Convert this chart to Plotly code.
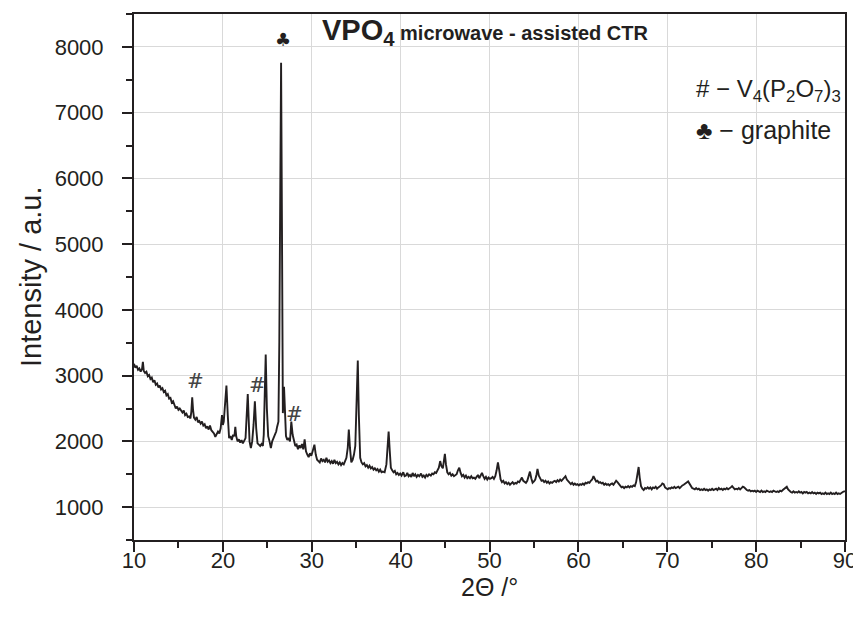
import plotly.graph_objects as go

two_theta = [
    10.0, 10.15, 10.3, 10.45, 10.6, 10.75, 10.9, 11.0, 11.1, 11.25,
    11.4, 11.55, 11.7, 11.85, 12.0, 12.15, 12.3, 12.45, 12.6, 12.75,
    12.9, 13.05, 13.2, 13.35, 13.5, 13.65, 13.8, 13.95, 14.1, 14.25,
    14.4, 14.55, 14.7, 14.85, 15.0, 15.15, 15.3, 15.45, 15.6, 15.75,
    15.9, 16.05, 16.2, 16.35, 16.45, 16.55, 16.65, 16.75, 16.9, 17.05,
    17.2, 17.35, 17.5, 17.65, 17.8, 17.95, 18.1, 18.25, 18.4, 18.55,
    18.7, 18.85, 19.0, 19.15, 19.3, 19.45, 19.6, 19.75, 19.9, 20.0,
    20.1, 20.25, 20.4, 20.55, 20.7, 20.85, 21.0, 21.15, 21.3, 21.4,
    21.5, 21.65, 21.8, 21.95, 22.1, 22.25, 22.4, 22.55, 22.7, 22.8,
    22.9, 23.0, 23.15, 23.3, 23.45, 23.6, 23.75, 23.9, 24.05, 24.2,
    24.35, 24.5, 24.6, 24.7, 24.82, 24.95, 25.1, 25.25, 25.4, 25.55,
    25.7, 25.85, 26.0, 26.1, 26.25, 26.35, 26.45, 26.55, 26.65, 26.75,
    26.88, 26.98, 27.1, 27.25, 27.4, 27.55, 27.7, 27.85, 28.0, 28.15,
    28.3, 28.45, 28.6, 28.75, 28.9, 29.05, 29.2, 29.35, 29.5, 29.65,
    29.8, 29.95, 30.1, 30.3, 30.45, 30.6, 30.75, 30.9, 31.05, 31.2,
    31.35, 31.5, 31.65, 31.8, 31.95, 32.1, 32.25, 32.4, 32.55, 32.7,
    32.85, 33.0, 33.15, 33.3, 33.45, 33.6, 33.75, 33.9, 34.05, 34.17,
    34.3, 34.45, 34.6, 34.75, 34.9, 35.05, 35.18, 35.3, 35.45, 35.6,
    35.75, 35.9, 36.05, 36.2, 36.35, 36.5, 36.65, 36.8, 36.95, 37.1,
    37.25, 37.4, 37.55, 37.7, 37.85, 38.0, 38.2, 38.4, 38.55, 38.65,
    38.78, 38.9, 39.05, 39.2, 39.35, 39.5, 39.65, 39.8, 39.95, 40.1,
    40.3, 40.45, 40.6, 40.75, 40.9, 41.05, 41.2, 41.35, 41.5, 41.65,
    41.8, 41.95, 42.1, 42.3, 42.45, 42.6, 42.75, 42.9, 43.05, 43.2,
    43.4, 43.55, 43.7, 43.85, 44.0, 44.15, 44.3, 44.45, 44.6, 44.75,
    44.9, 44.98, 45.1, 45.25, 45.4, 45.55, 45.7, 45.85, 46.0, 46.15,
    46.3, 46.45, 46.6, 46.75, 46.9, 47.05, 47.2, 47.35, 47.5, 47.65,
    47.8, 47.95, 48.1, 48.25, 48.4, 48.55, 48.7, 48.85, 49.0, 49.15,
    49.3, 49.45, 49.6, 49.75, 49.9, 50.05, 50.2, 50.35, 50.5, 50.65,
    50.8, 50.95, 51.1, 51.25, 51.4, 51.55, 51.7, 51.85, 52.0, 52.15,
    52.3, 52.45, 52.6, 52.75, 52.9, 53.05, 53.2, 53.35, 53.5, 53.65,
    53.8, 53.95, 54.1, 54.25, 54.4, 54.55, 54.7, 54.85, 55.0, 55.15,
    55.3, 55.4, 55.55, 55.7, 55.85, 56.0, 56.15, 56.3, 56.45, 56.6,
    56.75, 56.9, 57.05, 57.2, 57.35, 57.5, 57.65, 57.8, 57.95, 58.1,
    58.25, 58.4, 58.55, 58.7, 58.85, 59.0, 59.15, 59.3, 59.45, 59.6,
    59.75, 59.9, 60.05, 60.2, 60.35, 60.5, 60.65, 60.8, 60.95, 61.1,
    61.25, 61.4, 61.55, 61.7, 61.85, 62.0, 62.15, 62.3, 62.45, 62.6,
    62.75, 62.9, 63.05, 63.2, 63.35, 63.5, 63.65, 63.8, 63.95, 64.1,
    64.25, 64.4, 64.55, 64.7, 64.85, 65.0, 65.15, 65.3, 65.45, 65.6,
    65.75, 65.9, 66.05, 66.2, 66.35, 66.5, 66.65, 66.78, 66.9, 67.05,
    67.2, 67.35, 67.5, 67.65, 67.8, 67.95, 68.1, 68.25, 68.4, 68.55,
    68.7, 68.85, 69.0, 69.15, 69.3, 69.45, 69.6, 69.75, 69.9, 70.05,
    70.2, 70.35, 70.5, 70.65, 70.8, 70.95, 71.1, 71.25, 71.4, 71.55,
    71.7, 71.85, 72.0, 72.15, 72.35, 72.5, 72.65, 72.8, 72.95, 73.1,
    73.25, 73.4, 73.55, 73.7, 73.85, 74.0, 74.15, 74.3, 74.45, 74.6,
    74.75, 74.9, 75.05, 75.2, 75.35, 75.5, 75.65, 75.8, 75.95, 76.1,
    76.25, 76.4, 76.55, 76.7, 76.85, 77.0, 77.15, 77.3, 77.45, 77.6,
    77.75, 77.9, 78.05, 78.2, 78.35, 78.5, 78.65, 78.8, 78.95, 79.1,
    79.25, 79.4, 79.55, 79.7, 79.85, 80.0, 80.15, 80.3, 80.45, 80.6,
    80.75, 80.9, 81.05, 81.2, 81.35, 81.5, 81.65, 81.8, 81.95, 82.1,
    82.25, 82.4, 82.55, 82.7, 82.85, 83.0, 83.15, 83.3, 83.45, 83.6,
    83.75, 83.9, 84.05, 84.2, 84.35, 84.5, 84.65, 84.8, 84.95, 85.1,
    85.25, 85.4, 85.55, 85.7, 85.85, 86.0, 86.15, 86.3, 86.45, 86.6,
    86.75, 86.9, 87.05, 87.2, 87.35, 87.5, 87.65, 87.8, 87.95, 88.1,
    88.25, 88.4, 88.55, 88.7, 88.85, 89.0, 89.15, 89.3, 89.45, 89.6,
    89.75, 89.9, 90.0,
]

intensity = [
    3180, 3120, 3150, 3090, 3110, 3060, 3100, 3210, 3070, 3040,
    3060, 2990, 3010, 2950, 2970, 2900, 2930, 2860, 2880, 2820,
    2850, 2790, 2810, 2750, 2770, 2700, 2720, 2650, 2660, 2590,
    2610, 2540, 2500, 2530, 2480, 2500, 2460, 2440, 2470, 2400,
    2420, 2370, 2380, 2350, 2450, 2670, 2470, 2360, 2330, 2370,
    2290, 2310, 2270, 2300, 2240, 2260, 2200, 2230, 2180, 2240,
    2170, 2150, 2120, 2070, 2100, 2150, 2120, 2200, 2400, 2250,
    2300, 2600, 2850, 2400, 2050, 2080, 2020, 2100, 2080, 2220,
    2080, 2000, 2030, 1980, 2020, 1970, 2000, 2050, 2450, 2720,
    2350, 2000, 1900, 2000, 2250, 2610, 2200, 1970, 1950, 1930,
    1960, 1930, 2100, 2700, 3320, 2500, 2080, 2000, 1900, 2000,
    2050, 2100, 2150, 2220, 2300, 3500, 6500, 7760, 5200, 2430,
    2830, 2300, 2080, 2020, 2050, 2000, 2300, 2100, 2000, 1930,
    1950, 1880, 1940, 1900, 1960, 1880, 2030, 1850, 1800, 1760,
    1820, 1780, 1850, 1950, 1800, 1720, 1700, 1680, 1740, 1700,
    1720, 1680, 1750, 1690, 1710, 1670, 1700, 1660, 1720, 1670,
    1690, 1650, 1680, 1640, 1670, 1650, 1700, 1750, 1900, 2180,
    1900, 1680, 1720, 1800, 1930, 2600, 3230, 2400, 1750, 1680,
    1650, 1670, 1620, 1640, 1600, 1630, 1590, 1610, 1570, 1590,
    1560, 1580, 1540, 1570, 1530, 1540, 1530, 1650, 1950, 2150,
    1850, 1600, 1560, 1530, 1550, 1500, 1520, 1490, 1510, 1480,
    1530, 1470, 1480, 1520, 1470, 1490, 1460, 1520, 1470, 1500,
    1460, 1490, 1470, 1510, 1460, 1480, 1450, 1490, 1470, 1500,
    1480, 1510, 1500, 1530, 1520, 1560, 1600, 1700, 1620, 1590,
    1720, 1810, 1650, 1530, 1500, 1520, 1480, 1500, 1470, 1490,
    1500, 1560, 1600, 1520, 1470, 1490, 1450, 1480, 1440, 1460,
    1440, 1470, 1440, 1450, 1430, 1460, 1490, 1440, 1470, 1520,
    1470, 1430, 1460, 1420, 1450, 1430, 1440, 1460, 1430, 1470,
    1560, 1680, 1560, 1420, 1380, 1400, 1360, 1380, 1350, 1370,
    1340, 1360, 1380, 1350, 1370, 1360, 1390, 1380, 1410, 1450,
    1400, 1380, 1370, 1400, 1470, 1540, 1440, 1370, 1390, 1420,
    1500, 1580, 1480, 1430, 1400, 1410, 1380, 1400, 1370, 1390,
    1360, 1380, 1370, 1390, 1400, 1380, 1410, 1390, 1420, 1400,
    1430, 1450, 1470, 1420, 1390, 1360, 1350, 1370, 1340, 1360,
    1340, 1350, 1330, 1350, 1340, 1360, 1340, 1370, 1360, 1380,
    1370, 1400, 1420, 1470, 1440, 1390, 1400, 1370, 1380, 1360,
    1370, 1340, 1360, 1340, 1350, 1330, 1350, 1360, 1340, 1370,
    1400, 1380, 1350, 1320, 1300, 1310, 1290, 1310, 1300, 1320,
    1300, 1320, 1310, 1330, 1320, 1380, 1540, 1610, 1450, 1320,
    1280, 1260, 1290, 1280, 1300, 1280, 1300, 1270, 1300, 1290,
    1310, 1280, 1300, 1310, 1330, 1360, 1350, 1300, 1290, 1270,
    1290, 1280, 1300, 1290, 1310, 1290, 1300, 1310, 1290, 1320,
    1330, 1340, 1350, 1370, 1390, 1350, 1310, 1290, 1280, 1270,
    1290, 1270, 1280, 1260, 1270, 1260, 1280, 1260, 1270, 1250,
    1270, 1260, 1280, 1260, 1270, 1280, 1260, 1290, 1270, 1280,
    1260, 1280, 1270, 1290, 1270, 1280, 1300, 1320, 1290, 1270,
    1280, 1270, 1290, 1270, 1290, 1310, 1300, 1270, 1260, 1250,
    1260, 1240, 1250, 1240, 1250, 1230, 1250, 1240, 1230, 1250,
    1230, 1240, 1230, 1250, 1240, 1230, 1240, 1230, 1250, 1240,
    1230, 1240, 1230, 1250, 1240, 1260, 1280, 1300, 1310, 1270,
    1240, 1230, 1220, 1240, 1220, 1230, 1220, 1240, 1220, 1230,
    1210, 1230, 1220, 1230, 1210, 1220, 1210, 1230, 1210, 1220,
    1200, 1220, 1210, 1220, 1200, 1210, 1200, 1220, 1200, 1210,
    1200, 1220, 1200, 1210, 1200, 1220, 1200, 1210, 1200, 1220,
    1230, 1240, 1240,
]

assert len(two_theta) == len(intensity), (len(two_theta), len(intensity))

x_ticks = [10, 20, 30, 40, 50, 60, 70, 80, 90]
y_ticks = [1000, 2000, 3000, 4000, 5000, 6000, 7000, 8000]

# peak markers
hash_x = [16.9, 23.85, 28.1]
hash_y = [2920, 2860, 2410]
club_x = [26.75]
club_y = [8110]

INK = "#231f20"
FONT = "Liberation Sans, Arial, sans-serif"

# The page body has an 8px margin; size the figure so it fits the
# 861x622 window without a vertical scrollbar.
W, H = 853, 606

fig = go.Figure()
fig.add_trace(go.Scatter(
    x=two_theta, y=intensity, mode="lines",
    line=dict(color=INK, width=1.9),
    showlegend=False, hoverinfo="skip",
))

for hx, hy in zip(hash_x, hash_y):
    fig.add_annotation(x=hx, y=hy, text="#", showarrow=False,
                       font=dict(family="DejaVu Serif, serif", size=20, color="#444"),
                       xanchor="center", yanchor="middle")
for cx, cy in zip(club_x, club_y):
    fig.add_annotation(x=cx, y=cy, text="♣", showarrow=False,
                       font=dict(family="DejaVu Sans", size=18, color=INK),
                       xanchor="center", yanchor="middle")

fig.add_annotation(
    x=30.9, y=8220, xanchor="left", yanchor="middle", showarrow=False,
    text="<b>VPO<sub>4</sub></b><b><span style='font-size:20px'> microwave - assisted CTR</span></b>",
    font=dict(family=FONT, size=29, color=INK),
)

fig.add_annotation(
    x=73.0, y=7330, xanchor="left", yanchor="middle", showarrow=False,
    text="# − V<sub>4</sub>(P<sub>2</sub>O<sub>7</sub>)<sub>3</sub>",
    font=dict(family=FONT, size=24, color=INK),
)
fig.add_annotation(
    x=73.0, y=6730, xanchor="left", yanchor="middle", showarrow=False,
    text="♣ − graphite",
    font=dict(family=FONT, size=25, color=INK),
)

# axis titles placed as annotations for exact positioning
fig.add_annotation(
    xref="paper", yref="paper", x=0, y=0.5, xshift=-103,
    xanchor="center", yanchor="middle", textangle=-90, showarrow=False,
    text="Intensity / a.u.",
    font=dict(family=FONT, size=29, color=INK),
)
fig.add_annotation(
    xref="paper", yref="paper", x=0.5, y=0, yshift=-47,
    xanchor="center", yanchor="middle", showarrow=False,
    text="2Θ /°",
    font=dict(family=FONT, size=25, color=INK),
)

axis_common = dict(
    showline=True, linecolor=INK, linewidth=2, mirror=True,
    ticks="outside", ticklen=10, tickwidth=1.6, tickcolor=INK,
    showgrid=True, gridcolor="#d9d9d9", gridwidth=1.3,
    zeroline=False,
    tickfont=dict(family=FONT, size=22, color=INK),
)

fig.update_xaxes(
    range=[10, 90], tickvals=x_ticks,
    ticktext=[str(v) for v in x_ticks],
    minor=dict(dtick=5, ticks="outside", ticklen=6, tickwidth=1.6, tickcolor=INK, showgrid=False),
    ticklabelstandoff=-10,
    ticklabeloverflow="allow",
    **axis_common,
)
fig.update_yaxes(
    range=[500, 8500], tickvals=y_ticks,
    ticktext=[str(v) for v in y_ticks],
    minor=dict(dtick=500, tick0=500, ticks="outside", ticklen=6, tickwidth=1.6, tickcolor=INK, showgrid=False),
    ticklabelstandoff=14,
    **axis_common,
)

fig.update_layout(
    width=W, height=H,
    margin=dict(l=126, r=8, t=4, b=74),
    paper_bgcolor="white", plot_bgcolor="white",
    showlegend=False,
)

fig.write_html("out.html")
